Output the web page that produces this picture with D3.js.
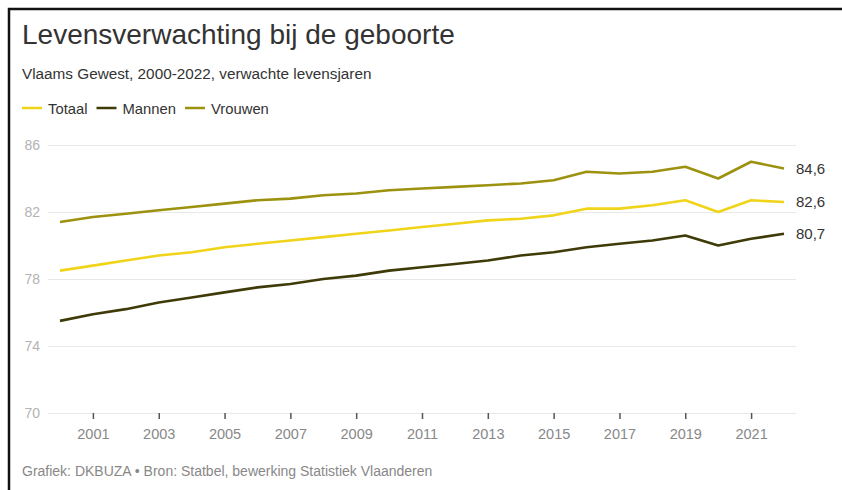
<!DOCTYPE html>
<html>
<head>
<meta charset="utf-8">
<script src="https://cdn.jsdelivr.net/npm/d3@7"></script>
<style>
  html, body { margin: 0; padding: 0; background: #fff; }
  svg { display: block; font-family: "Liberation Sans", Arial, sans-serif; }
</style>
</head>
<body>
<svg id="chart" width="842" height="490"></svg>
<script>
// Levensverwachting bij de geboorte, Vlaams Gewest 2000-2022
const years = d3.range(2000, 2023);
const totaal  = [78.5, 78.8, 79.1, 79.4, 79.6, 79.9, 80.1, 80.3, 80.5, 80.7, 80.9, 81.1, 81.3, 81.5, 81.6, 81.8, 82.2, 82.2, 82.4, 82.7, 82.0, 82.7, 82.6];
const mannen  = [75.5, 75.9, 76.2, 76.6, 76.9, 77.2, 77.5, 77.7, 78.0, 78.2, 78.5, 78.7, 78.9, 79.1, 79.4, 79.6, 79.9, 80.1, 80.3, 80.6, 80.0, 80.4, 80.7];
const vrouwen = [81.4, 81.7, 81.9, 82.1, 82.3, 82.5, 82.7, 82.8, 83.0, 83.1, 83.3, 83.4, 83.5, 83.6, 83.7, 83.9, 84.4, 84.3, 84.4, 84.7, 84.0, 85.0, 84.6];
const seriesNames = ["Totaal", "Mannen", "Vrouwen"];
const seriesColors = ["#f0d41a", "#3f3b08", "#9c920f"];
const yTicks = [70, 74, 78, 82, 86];
const xTicks = [2001, 2003, 2005, 2007, 2009, 2011, 2013, 2015, 2017, 2019, 2021];

const title = "Levensverwachting bij de geboorte";
const subtitle = "Vlaams Gewest, 2000-2022, verwachte levensjaren";
const footer = "Grafiek: DKBUZA \u2022 Bron: Statbel, bewerking Statistiek Vlaanderen";

const series = [
  { name: seriesNames[0], color: seriesColors[0], values: totaal },
  { name: seriesNames[1], color: seriesColors[1], values: mannen },
  { name: seriesNames[2], color: seriesColors[2], values: vrouwen }
];

const svg = d3.select("#chart");

// frame lines at top and left
svg.append("path")
  .attr("d", "M9,490 V9 H842")
  .attr("fill", "none")
  .attr("stroke", "#111")
  .attr("stroke-width", 2.5);

// header
svg.append("text").attr("x", 22).attr("y", 44)
  .attr("font-size", 28).attr("fill", "#333").text(title);
svg.append("text").attr("x", 22).attr("y", 79)
  .attr("font-size", 15.3).attr("fill", "#333").text(subtitle);

// legend
const legend = svg.append("g").attr("transform", "translate(22,108)");
let lx = 0;
series.forEach(s => {
  const g = legend.append("g").attr("transform", `translate(${lx},0)`);
  g.append("line").attr("x1", 0).attr("x2", 20).attr("y1", 0).attr("y2", 0)
    .attr("stroke", s.color).attr("stroke-width", 2.5);
  const t = g.append("text").attr("x", 26).attr("y", 5.5)
    .attr("font-size", 14.8).attr("fill", "#333").text(s.name);
  lx += 26 + t.node().getComputedTextLength() + 9;
});

// scales
const x = d3.scaleLinear().domain([2000, 2022]).range([60, 784]);
const y = d3.scaleLinear().domain([70, 86]).range([413, 145]);

// gridlines
const grid = svg.append("g").attr("transform", "translate(48,0)")
  .call(d3.axisLeft(y).tickValues(yTicks).tickSize(-748).tickFormat(""));
grid.select(".domain").remove();
grid.selectAll("line").attr("stroke", "#e8e8e8").attr("stroke-width", 1);

// y labels
svg.append("g").selectAll("text").data(yTicks).join("text")
  .attr("x", 40).attr("y", d => y(d)).attr("dy", "0.35em")
  .attr("text-anchor", "end").attr("font-size", 14).attr("fill", "#b3b3b3")
  .text(d => d);

// x axis
const xAxis = svg.append("g").attr("transform", "translate(0,413)")
  .call(d3.axisBottom(x).tickValues(xTicks).tickFormat(d3.format("d")).tickSize(6).tickPadding(10));
xAxis.select(".domain").remove();
xAxis.selectAll("line").attr("stroke", "#555").attr("stroke-width", 1.5);
xAxis.selectAll("text").attr("font-size", 14.5).attr("fill", "#888")
  .attr("font-family", "\"Liberation Sans\", Arial, sans-serif");

// lines
const line = d3.line().x((d, i) => x(years[i])).y(d => y(d));
svg.append("g").selectAll("path").data(series).join("path")
  .attr("d", s => line(s.values))
  .attr("fill", "none")
  .attr("stroke", s => s.color)
  .attr("stroke-width", 2.6)
  .attr("stroke-linejoin", "round");

// end labels
const fmt = v => d3.format(".1f")(v).replace(".", ",");
svg.append("g").selectAll("text").data(series).join("text")
  .attr("x", 796)
  .attr("y", s => y(s.values[s.values.length - 1]))
  .attr("dy", "0.35em")
  .attr("font-size", 15).attr("fill", "#333")
  .text(s => fmt(s.values[s.values.length - 1]));

// footer
svg.append("text").attr("x", 22).attr("y", 476)
  .attr("font-size", 14).attr("fill", "#888").text(footer);
</script>
</body>
</html>
